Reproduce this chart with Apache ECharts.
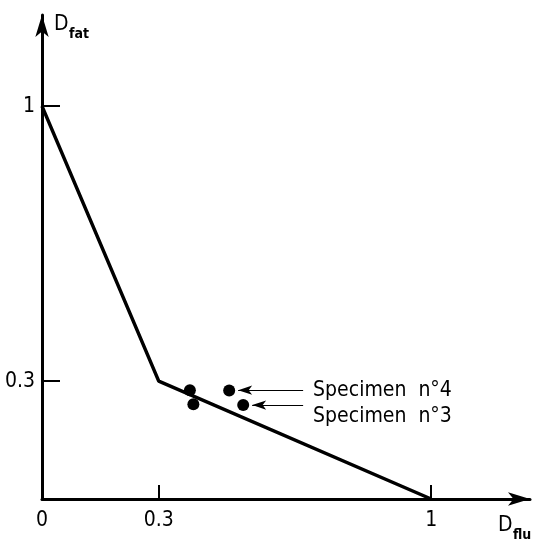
<!DOCTYPE html>
<html>
<head>
<meta charset="utf-8">
<script src="https://cdn.jsdelivr.net/npm/echarts@6/dist/echarts.min.js"></script>
<style>
  html, body { margin: 0; padding: 0; background: #fff; }
  #main { width: 544px; height: 543px; }
</style>
</head>
<body>
<div id="main"></div>
<script>
// limit line D_fat + D_flu = 1 (bilinear)
const limitX = [0, 0.3, 1];
const limitY = [1, 0.3, 0];

// test points
const specimenX = [0.380, 0.389, 0.481, 0.517];
const specimenY = [0.277, 0.241, 0.276, 0.239];

// labelled specimens: name, arrow start x, arrow end x, y
const noteNames = ['Specimen  n°4', 'Specimen  n°3'];
const noteFromX = [0.671, 0.671];
const noteToX = [0.504, 0.540];
const noteY = [0.277, 0.239];

const tickValues = [0.3, 1];
const xLabelValues = [0, 0.3, 1];

const font = 'DejaVu Sans Condensed';

const chartDom = document.getElementById('main');
const myChart = echarts.init(chartDom);

const axisCommon = {
    type: 'value',
    min: 0,
    splitLine: { show: false },
    axisLine: {
        show: true,
        onZero: false,
        symbol: ['none', 'arrow'],
        symbolSize: [10, 22],
        lineStyle: { color: '#000', width: 3 }
    }
};

// axis name: big D + bold subscript
function axisName(x, y, sub) {
    return [
        {
            type: 'text', x: x, y: y,
            style: { text: 'D', fontSize: 21, fontFamily: font, fill: '#000', verticalAlign: 'middle' }
        },
        {
            type: 'text', x: x + 15, y: y + 9,
            style: { text: sub, fontSize: 14, fontWeight: 'bold', fontFamily: font, fill: '#000', verticalAlign: 'middle' }
        }
    ];
}

const option = {
    animation: false,
    backgroundColor: '#fff',
    grid: { left: 42, right: 14, top: 15, bottom: 44 },
    xAxis: Object.assign({}, axisCommon, {
        max: 1.254,
        axisTick: {
            show: true,
            inside: true,
            length: 14,
            customValues: tickValues,
            lineStyle: { color: '#000', width: 2 }
        },
        axisLabel: {
            customValues: xLabelValues,
            margin: 11,
            fontSize: 21,
            fontFamily: font,
            color: '#000'
        }
    }),
    yAxis: Object.assign({}, axisCommon, {
        max: 1.232,
        axisTick: {
            show: true,
            inside: true,
            length: 18,
            customValues: tickValues,
            lineStyle: { color: '#000', width: 2 }
        },
        axisLabel: {
            customValues: tickValues,
            margin: 7,
            fontSize: 21,
            fontFamily: font,
            color: '#000'
        }
    }),
    graphic: axisName(54, 25, 'fat').concat(axisName(498, 526, 'flu')),
    series: [
        {
            type: 'line',
            data: limitX.map((x, i) => [x, limitY[i]]),
            symbol: 'none',
            lineStyle: { color: '#000', width: 3.5 },
            z: 3
        },
        {
            type: 'scatter',
            data: specimenX.map((x, i) => [x, specimenY[i]]),
            symbolSize: 12,
            itemStyle: { color: '#000', opacity: 1 },
            z: 4,
            markLine: {
                silent: true,
                symbol: ['none', 'arrow'],
                symbolSize: [7, 14],
                lineStyle: { color: '#000', width: 1.2, type: 'solid' },
                label: {
                    show: true,
                    position: 'start',
                    distance: 10,
                    fontSize: 21,
                    lineHeight: 22,
                    fontFamily: font,
                    color: '#000',
                    // n°3 text sits a line lower than its arrow
                    formatter: p => (p.dataIndex === 1 ? '\n' : '') + p.name
                },
                data: noteNames.map((name, i) => [
                    { name: name, coord: [noteFromX[i], noteY[i]] },
                    { coord: [noteToX[i], noteY[i]] }
                ])
            }
        }
    ]
};

myChart.setOption(option);
</script>
</body>
</html>
